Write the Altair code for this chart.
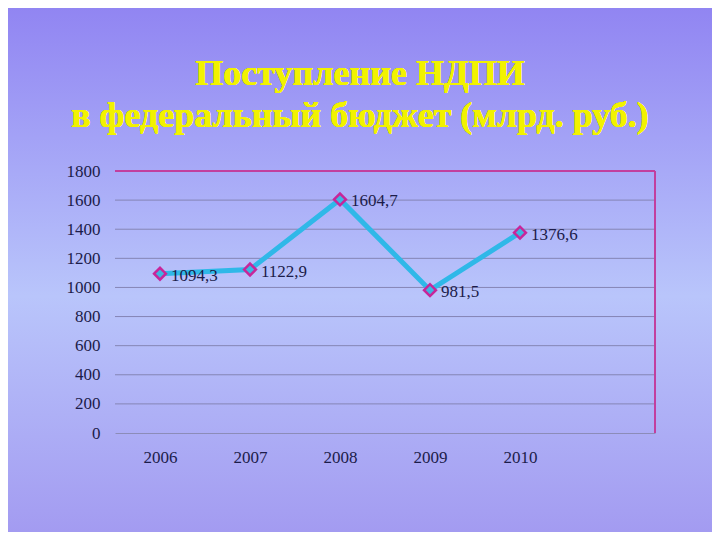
import altair as alt
import pandas as pd

years = ["2006", "2007", "2008", "2009", "2010"]
values = [1094.3, 1122.9, 1604.7, 981.5, 1376.6]
labels = ["1094,3", "1122,9", "1604,7", "981,5", "1376,6"]
x_domain = years + [" "]
y_ticks = [0, 200, 400, 600, 800, 1000, 1200, 1400, 1600, 1800]
title_lines = ["Поступление НДПИ", "в федеральный бюджет (млрд. руб.)"]

df = pd.DataFrame({"year": years, "value": values, "label": labels})
grid_df = pd.DataFrame({"value": y_ticks[1:-1]})

W, H = 540, 262
PL, PT, PR, PB = 107, 163, 57, 99
SERIF = "Liberation Serif"
TXT = "#1c1c4a"
FS = 17

xscale = alt.Scale(domain=x_domain, paddingInner=0, paddingOuter=0)
yscale = alt.Scale(domain=[0, 1800], nice=False)

xs = alt.X("year:O", scale=xscale,
           axis=alt.Axis(title=None, labelAngle=0, ticks=False, domainColor="#8c8cb8",
                         labelPadding=16, labelFontSize=FS, labelFont=SERIF, labelColor=TXT,
                         grid=False, zindex=1))
ys = alt.Y("value:Q", scale=yscale,
           axis=alt.Axis(title=None, values=y_ticks, format="d", ticks=False, domain=False,
                         grid=False, labelPadding=15, labelFontSize=FS, labelFont=SERIF,
                         labelColor=TXT, zindex=1, orient="left"))

grad = alt.LinearGradient(
    gradient="linear",
    stops=[alt.GradientStop(color="#9185f2", offset=0),
           alt.GradientStop(color="#b9c5fb", offset=0.55),
           alt.GradientStop(color="#a39bf1", offset=1)],
    x1=0, x2=0, y1=0, y2=1)

bg = alt.Chart(df).mark_rect(color=grad).encode(
    x=alt.value(-PL), x2=alt.value(W + PR), y=alt.value(-PT), y2=alt.value(H + PB))

grid = alt.Chart(grid_df).mark_rule(color="#8585b5", strokeWidth=1).encode(
    y=ys, x=alt.value(0), x2=alt.value(W))

top_rule = alt.Chart(df).mark_rule(color="#c23c9c", strokeWidth=1).encode(
    x=alt.value(0), x2=alt.value(W), y=alt.value(0))
right_rule = alt.Chart(df).mark_rule(color="#c23c9c", strokeWidth=1).encode(
    x=alt.value(W), y=alt.value(0), y2=alt.value(H))

title_style = dict(font=SERIF, fontSize=36, fontWeight="bold", color="#f2f200",
                   align="center", baseline="alphabetic")
title1 = alt.Chart(df).mark_text(**title_style).encode(
    text=alt.value(title_lines[0]), x=alt.value(W / 2 - 25), y=alt.value(-86))
title2 = alt.Chart(df).mark_text(**title_style).encode(
    text=alt.value(title_lines[1]), x=alt.value(W / 2 - 25), y=alt.value(-44))

base = alt.Chart(df).encode(x=xs, y=ys)
line = base.mark_line(color="#2fb8e8", strokeWidth=5)
pts = base.mark_point(shape="diamond", size=140, filled=True, fill="#3fb4e0",
                      stroke="#c8259a", strokeWidth=2.5, opacity=1)
txt = base.mark_text(align="left", baseline="middle", dx=11, dy=2, fontSize=FS,
                     font=SERIF, color=TXT).encode(text="label:N")

chart = alt.layer(bg, grid, top_rule, right_rule, line, pts, txt, title1, title2).properties(
    width=W, height=H,
    autosize=alt.AutoSizeParams(type="none"),
    padding={"left": PL, "top": PT, "right": PR, "bottom": PB},
).configure_view(stroke=None).configure(background="#a39bf1")

chart.save("out.html", embed_options={"renderer": "svg", "actions": False})
